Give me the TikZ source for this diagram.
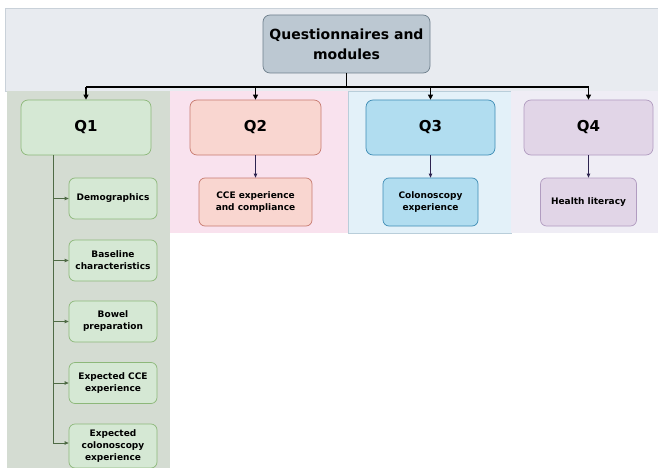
\documentclass[tikz,border=0pt]{standalone}
\usepackage{fontspec}
\setmainfont{DejaVu Sans}
\usetikzlibrary{arrows.meta,calc}
\definecolor{bandtop}{HTML}{E8EBF0}
\definecolor{bandtopb}{HTML}{C9D1D9}
\definecolor{bandone}{HTML}{D4DCD2}
\definecolor{bandtwo}{HTML}{F9E2EE}
\definecolor{bandthree}{HTML}{E3F1F9}
\definecolor{bandthreeb}{HTML}{B9CEDA}
\definecolor{bandfour}{HTML}{EFEDF5}
\definecolor{topfill}{HTML}{BCC8D2}
\definecolor{topdraw}{HTML}{6E7F8C}
\definecolor{gfill}{HTML}{D5E8D4}
\definecolor{gdraw}{HTML}{8DB87A}
\definecolor{rfill}{HTML}{F9D6D0}
\definecolor{rdraw}{HTML}{C77B70}
\definecolor{bfill}{HTML}{B1DDF0}
\definecolor{bdraw}{HTML}{3E8DB5}
\definecolor{pfill}{HTML}{E1D5E7}
\definecolor{pdraw}{HTML}{B19CC0}
\definecolor{treeline}{HTML}{4F6B45}
\definecolor{subline}{HTML}{2E2450}
\tikzset{
  box/.style={rounded corners=7pt, inner sep=1pt, align=center, font=\bfseries, line width=0.7pt},
  qbox/.style={box, minimum height=55pt, font=\fontsize{15}{17}\selectfont\bfseries},
  sbox/.style={box, rounded corners=6pt, font=\fontsize{9}{12}\selectfont\bfseries},
  green/.style={fill=gfill, draw=gdraw},
  red/.style={fill=rfill, draw=rdraw},
  blue/.style={fill=bfill, draw=bdraw},
  purp/.style={fill=pfill, draw=pdraw},
  mainarrow/.style={draw=black, line width=1.1pt, -{Triangle[length=5pt,width=5pt]}},
  mainline/.style={draw=black, line width=1.1pt},
  subarrow/.style={draw=subline, line width=0.7pt, -{Triangle[length=4pt,width=3.5pt]}},
  treearrow/.style={draw=treeline, line width=0.8pt, -{Triangle[length=4pt,width=3.5pt]}},
}
\begin{document}
\begin{tikzpicture}[x=1pt,y=-1pt]
\useasboundingbox (0,0) rectangle (658,468);
% backgrounds
\fill[white] (0,0) rectangle (658,468);
\filldraw[fill=bandtop, draw=bandtopb, line width=0.6pt] (5,8) rectangle (660,91);
\fill[bandone] (7,91) rectangle (170,468);
\fill[bandtwo] (170,91) rectangle (348,233);
\filldraw[fill=bandthree, draw=bandthreeb, line width=0.6pt] (348,91) rectangle (511,233);
\fill[bandfour] (511.3,91.3) rectangle (658,233);
% top node
\node[box, fill=topfill, draw=topdraw, minimum width=167pt, minimum height=58pt,
  font=\fontsize{14}{20}\selectfont\bfseries] (top) at (346.5,44) {Questionnaires and\\modules};
% Q nodes
\node[qbox, green, minimum width=130pt] (q1) at (86,127.5) {Q1};
\node[qbox, red, minimum width=131pt] (q2) at (255.5,127.5) {Q2};
\node[qbox, blue, minimum width=129pt] (q3) at (430.5,127.5) {Q3};
\node[qbox, purp, minimum width=129pt] (q4) at (588.5,127.5) {Q4};
% sub nodes
\node[sbox, red, minimum width=113pt, minimum height=48pt] (cce) at (255.5,202) {CCE experience\\and compliance};
\node[sbox, blue, minimum width=95pt, minimum height=48pt] (colo) at (430.5,202) {Colonoscopy\\experience};
\node[sbox, purp, minimum width=96pt, minimum height=48pt] (hl) at (588.5,202) {Health literacy};
% Q1 children
\node[sbox, green, minimum width=88pt, minimum height=41pt] (d1) at (113,198.5) {Demographics};
\node[sbox, green, minimum width=88pt, minimum height=41pt] (d2) at (113,260.5) {Baseline\\characteristics};
\node[sbox, green, minimum width=88pt, minimum height=41pt] (d3) at (113,321.5) {Bowel\\preparation};
\node[sbox, green, minimum width=88pt, minimum height=41pt] (d4) at (113,383) {Expected CCE\\experience};
\node[sbox, green, minimum width=88pt, minimum height=44pt] (d5) at (113,446) {Expected\\colonoscopy\\experience};
% top connectors
\coordinate (bus) at (346.5,87);
\coordinate (trunk) at (53,155);
\draw[mainline] (top.south) -- (bus);
\draw[mainline] (q1.north |- bus) -- (q4.north |- bus);
\draw[mainarrow] (q1.north |- bus) -- (q1.north);
\draw[mainarrow] (q2.north |- bus) -- (q2.north);
\draw[mainarrow] (q3.north |- bus) -- (q3.north);
\draw[mainarrow] (q4.north |- bus) -- (q4.north);
% sub arrows
\draw[subarrow] (q2.south) -- (cce.north);
\draw[subarrow] (q3.south) -- (colo.north);
\draw[subarrow] (q4.south) -- (hl.north);
% Q1 tree
\draw[treearrow] (trunk |- q1.south) |- ($(d5.west)+(0,-3)$);
\draw[treearrow] (trunk |- d1.west) -- (d1.west);
\draw[treearrow] (trunk |- d2.west) -- (d2.west);
\draw[treearrow] (trunk |- d3.west) -- (d3.west);
\draw[treearrow] (trunk |- d4.west) -- (d4.west);
\end{tikzpicture}
\end{document}
